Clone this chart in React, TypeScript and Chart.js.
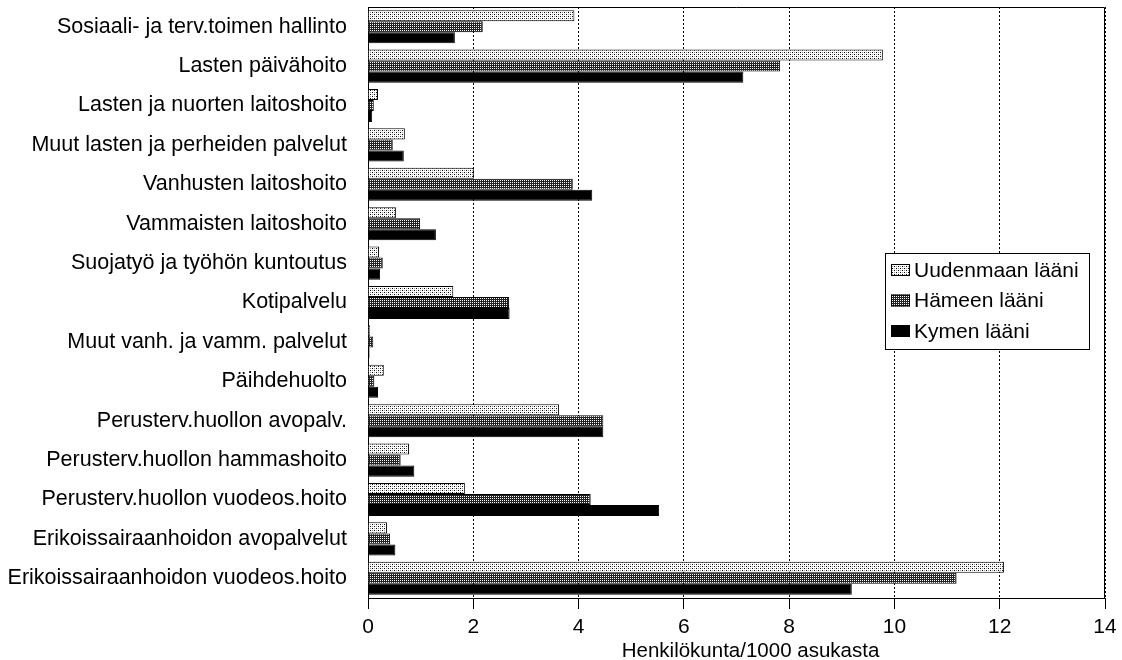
import { useEffect, useRef } from "react";
import { Chart, registerables } from "chart.js";

Chart.register(...registerables);

const categories = [
  "Sosiaali- ja terv.toimen hallinto",
  "Lasten päivähoito",
  "Lasten ja nuorten laitoshoito",
  "Muut lasten ja perheiden palvelut",
  "Vanhusten laitoshoito",
  "Vammaisten laitoshoito",
  "Suojatyö ja työhön kuntoutus",
  "Kotipalvelu",
  "Muut vanh. ja vamm. palvelut",
  "Päihdehuolto",
  "Perusterv.huollon avopalv.",
  "Perusterv.huollon hammashoito",
  "Perusterv.huollon vuodeos.hoito",
  "Erikoissairaanhoidon avopalvelut",
  "Erikoissairaanhoidon vuodeos.hoito",
];

const seriesNames = ["Uudenmaan lääni", "Hämeen lääni", "Kymen lääni"];

const uudenmaa = [3.92, 9.78, 0.19, 0.7, 2.01, 0.53, 0.21, 1.62, 0.04, 0.3, 3.63, 0.78, 1.84, 0.36, 12.08];
const hameen = [2.18, 7.83, 0.11, 0.47, 3.89, 0.99, 0.28, 2.68, 0.1, 0.12, 4.47, 0.62, 4.23, 0.42, 11.18];
const kymen = [1.65, 7.13, 0.08, 0.68, 4.26, 1.29, 0.23, 2.69, 0.03, 0.19, 4.47, 0.88, 5.53, 0.52, 9.19];

const xMin = 0;
const xMax = 14;
const xStep = 2;
const xTitle = "Henkilökunta/1000 asukasta";

const FONT = "'Liberation Sans', Arial, Helvetica, sans-serif";

function makePattern(kind: "light" | "dark"): CanvasPattern | string {
  const c = document.createElement("canvas");
  c.width = 4;
  c.height = 4;
  const g = c.getContext("2d");
  if (!g) return kind === "light" ? "#d0d0d0" : "#505050";
  if (kind === "light") {
    g.fillStyle = "#ffffff";
    g.fillRect(0, 0, 4, 4);
    g.fillStyle = "#000000";
    g.fillRect(0, 0, 1, 1);
    g.fillRect(2, 2, 1, 1);
    g.fillStyle = "#999999";
    g.fillRect(2, 0, 1, 1);
    g.fillRect(0, 2, 1, 1);
  } else {
    g.fillStyle = "#222222";
    g.fillRect(0, 0, 4, 4);
    g.fillStyle = "#ffffff";
    g.fillRect(0, 0, 1, 1);
    g.fillRect(2, 2, 1, 1);
    g.fillRect(2, 0, 1, 1);
    g.fillRect(0, 2, 1, 1);
  }
  const p = g.createPattern(c, "repeat");
  return p || (kind === "light" ? "#d0d0d0" : "#505050");
}

export default function App() {
  const ref = useRef<HTMLCanvasElement | null>(null);

  useEffect(() => {
    if (!ref.current) return;
    const fills = [makePattern("light"), makePattern("dark"), "#000000"];
    const values = [uudenmaa, hameen, kymen];

    const framePlugin = {
      id: "frameAndLegend",
      afterDraw(chart: any) {
        const { ctx, chartArea: a } = chart;
        ctx.save();
        ctx.strokeStyle = "#000";
        ctx.lineWidth = 1;
        ctx.setLineDash([]);
        ctx.beginPath();
        ctx.moveTo(a.left, a.top + 0.5);
        ctx.lineTo(a.right - 0.5, a.top + 0.5);
        ctx.lineTo(a.right - 0.5, a.bottom);
        ctx.stroke();

        // axis title
        ctx.fillStyle = "#000";
        ctx.font = `20.5px ${FONT}`;
        ctx.textAlign = "center";
        ctx.textBaseline = "middle";
        ctx.fillText(xTitle, (a.left + a.right) / 2 + 14, a.bottom + 53);

        // legend box
        const bx = a.right - 220;
        const by = a.top + 246;
        const bw = 204;
        const bh = 96;
        ctx.fillStyle = "#fff";
        ctx.fillRect(bx, by, bw, bh);
        ctx.strokeRect(bx + 0.5, by + 0.5, bw, bh);
        ctx.font = `21px ${FONT}`;
        ctx.textBaseline = "middle";
        ctx.textAlign = "left";
        chart.data.datasets.forEach((ds: any, i: number) => {
          const cy = by + 17 + i * 30.5;
          ctx.fillStyle = ds.backgroundColor;
          ctx.fillRect(bx + 6, cy - 6, 19, 12);
          ctx.strokeStyle = "#000";
          ctx.strokeRect(bx + 6.5, cy - 5.5, 18, 11);
          ctx.fillStyle = "#000";
          ctx.fillText(ds.label, bx + 29, cy + 1);
        });
        ctx.restore();
      },
    };

    const chart = new Chart(ref.current, {
      type: "bar",
      data: {
        labels: categories,
        datasets: seriesNames.map((name, i) => ({
          label: name,
          data: values[i],
          backgroundColor: fills[i] as any,
          borderColor: "#000",
          borderWidth: 1,
          categoryPercentage: 0.84,
          barPercentage: 1.0,
        })),
      },
      options: {
        indexAxis: "y",
        responsive: false,
        animation: false,
        layout: { padding: { top: 7, right: 17, bottom: 0, left: 0 } },
        plugins: {
          legend: { display: false },
          tooltip: { enabled: false },
        },
        scales: {
          x: {
            type: "linear",
            min: xMin,
            max: xMax,
            ticks: {
              stepSize: xStep,
              color: "#000",
              font: { family: FONT, size: 21 },
              padding: 6,
              maxRotation: 0,
            },
            grid: {
              color: "#000",
              lineWidth: 1,
              drawTicks: true,
              tickLength: 11,
              tickColor: "#000",
              tickBorderDash: [],
            } as any,
            border: { display: true, color: "#000", width: 1, dash: [2, 2] },
            title: { display: false },
            afterFit: (s: any) => {
              s.height = 62;
              s.paddingLeft = 0;
              s.paddingRight = 0;
            },
          },
          y: {
            type: "category",
            ticks: {
              color: "#000",
              font: { family: FONT, size: 21.5 },
              padding: 21,
              autoSkip: false,
            },
            grid: { display: false, drawTicks: false },
            border: { display: true, color: "#000", width: 1 },
            afterFit: (s: any) => {
              s.width = 368;
              s.paddingTop = 0;
              s.paddingBottom = 0;
            },
          },
        },
      },
      plugins: [framePlugin],
    });
    return () => chart.destroy();
  }, []);

  return (
    <div style={{ position: "absolute", left: 0, top: 0, width: 1122, height: 660, background: "#fff" }}>
      <canvas ref={ref} width={1122} height={660} style={{ display: "block" }} />
    </div>
  );
}
